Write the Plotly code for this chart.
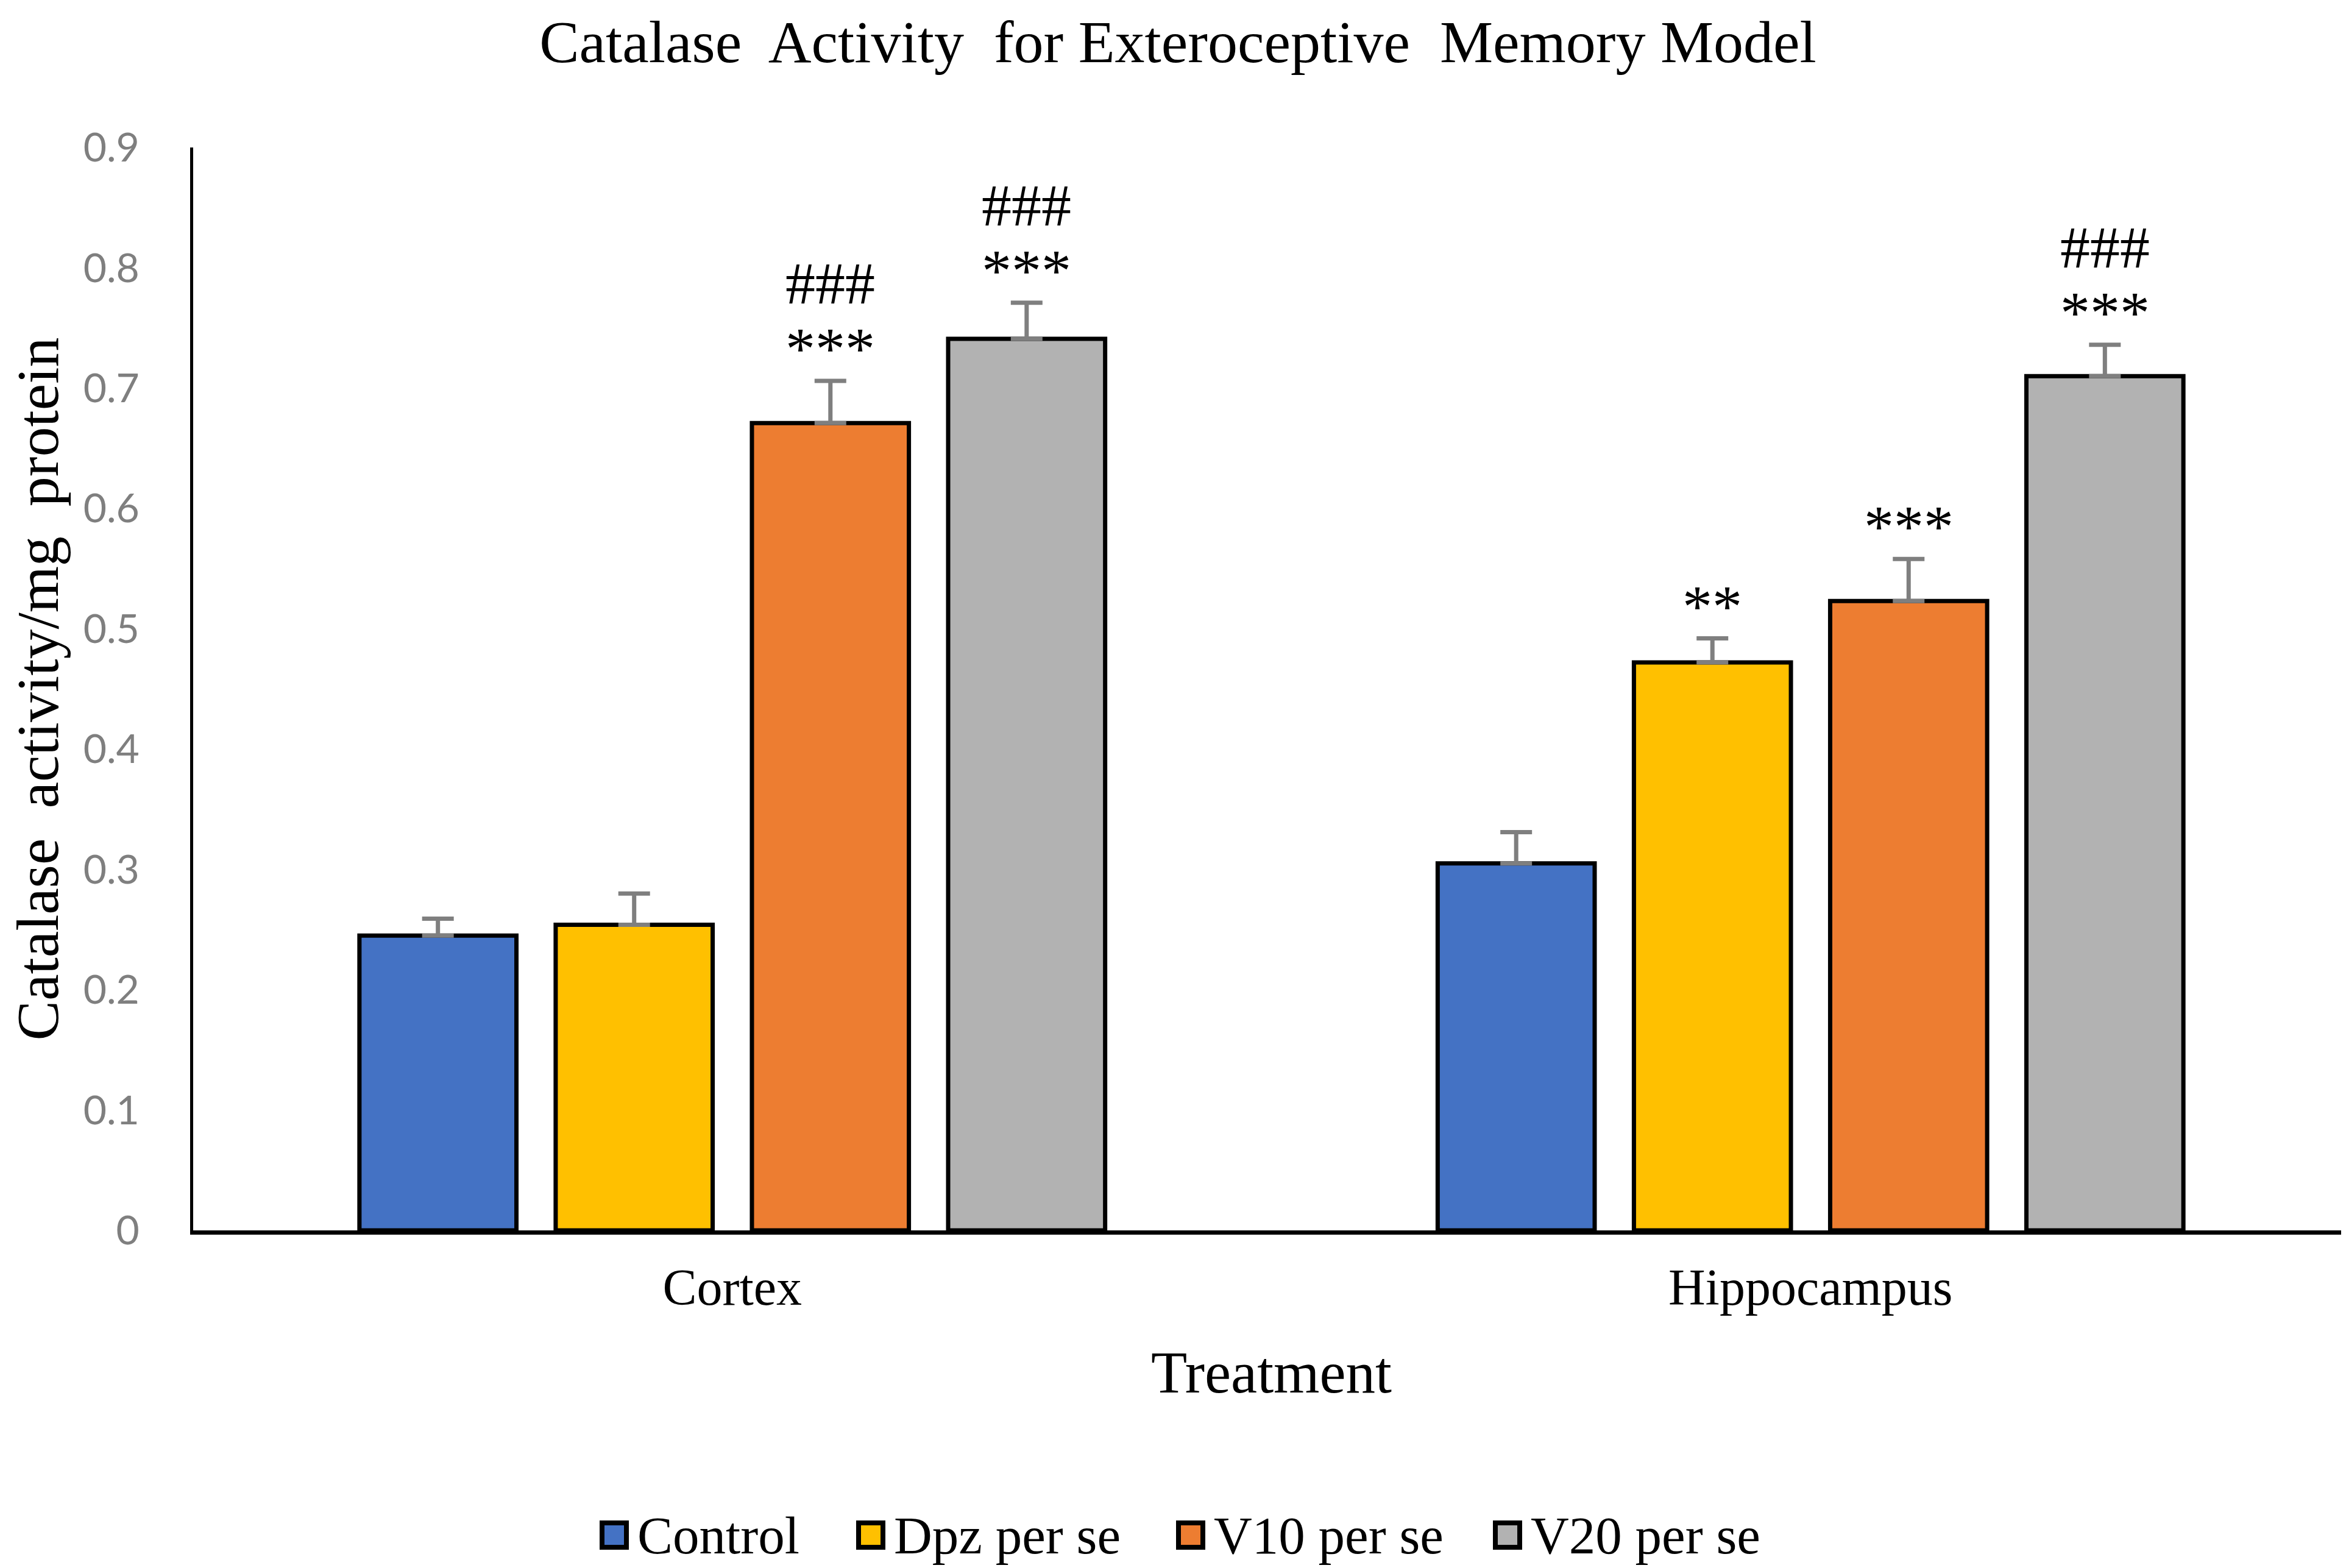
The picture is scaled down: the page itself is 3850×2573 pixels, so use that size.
import plotly.graph_objects as go

# ---------------------------------------------------------------------------
# DATA

regions = ["Cortex", "Hippocampus"]
groups = ["Control", "Dpz per se", "V10 per se", "V20 per se"]

control = [0.245, 0.305]
dpz = [0.254, 0.472]
v10 = [0.671, 0.523]
v20 = [0.741, 0.710]

control_err = [0.014, 0.026]
dpz_err = [0.026, 0.020]
v10_err = [0.035, 0.035]
v20_err = [0.030, 0.026]

# significance marks above each bar
control_stars = ["", ""]
dpz_stars = ["", "**"]
v10_stars = ["***", "***"]
v20_stars = ["***", "***"]

control_hash = ["", ""]
dpz_hash = ["", ""]
v10_hash = ["###", ""]
v20_hash = ["###", "###"]

y_ticks = [0, 0.1, 0.2, 0.3, 0.4, 0.5, 0.6, 0.7, 0.8, 0.9]
y_ticktext = ["0", "0.1", "0.2", "0.3", "0.4", "0.5", "0.6", "0.7", "0.8", "0.9"]

# ---------------------------------------------------------------------------
# STYLE / LAYOUT

W, H = 3850, 2573
L, R, T, B = 309, 2, 234, 562
colors = ["#4472C4", "#FFC000", "#ED7D31", "#B2B2B2"]
serif = "Liberation Serif"
BARGAP = 0.272
step = (1 - BARGAP) / len(groups)  # bar spacing in category units

# legend swatch left edges (pixels), drawn by hand so the squares are big
legend_left = [976, 1397, 1922, 2442]
legend_y = 2511
swatch = 48


def px_x(px):
    return (px - L) / (W - L - R)


def px_y(py):
    return (H - B - py) / (H - T - B)


values = [control, dpz, v10, v20]
errors = [control_err, dpz_err, v10_err, v20_err]
stars = [control_stars, dpz_stars, v10_stars, v20_stars]
hashes = [control_hash, dpz_hash, v10_hash, v20_hash]

series = []
for name, vals, errs, col in zip(groups, values, errors, colors):
    series.append(
        go.Bar(
            name=name,
            x=regions,
            y=vals,
            showlegend=False,
            marker=dict(color=col, line=dict(color="black", width=7)),
            error_y=dict(
                type="data",
                array=errs,
                arrayminus=[0] * len(errs),
                symmetric=False,
                color="#7F7F7F",
                thickness=7,
                width=26,
            ),
        )
    )

annotations = []
for i in range(len(groups)):
    for j, region in enumerate(regions):
        top = values[i][j] + errors[i][j]
        xpos = j + (i - (len(groups) - 1) / 2) * step
        if stars[i][j]:
            annotations.append(
                dict(x=xpos, y=top, xref="x", yref="y", text=stars[i][j],
                     showarrow=False, yanchor="middle", yshift=53,
                     font=dict(family=serif, size=98, color="black"))
            )
        if hashes[i][j]:
            annotations.append(
                dict(x=xpos, y=top, xref="x", yref="y", text=hashes[i][j],
                     showarrow=False, yanchor="middle", yshift=160,
                     font=dict(family=serif, size=98, color="black"))
            )

# legend
shapes = []
for name, col, left in zip(groups, colors, legend_left):
    shapes.append(
        dict(type="rect", xref="paper", yref="paper",
             x0=px_x(left + 4), x1=px_x(left + swatch - 4),
             y0=px_y(legend_y + swatch / 2 - 4), y1=px_y(legend_y - swatch / 2 + 4),
             fillcolor=col, line=dict(color="black", width=8))
    )
    annotations.append(
        dict(x=px_x(left + 60), y=px_y(legend_y), xref="paper", yref="paper",
             text=name, showarrow=False, xanchor="left", yanchor="middle",
             font=dict(family=serif, size=87, color="black"))
    )

layout = go.Layout(
    width=W,
    height=H,
    plot_bgcolor="white",
    paper_bgcolor="white",
    margin=dict(l=L, r=R, t=T, b=B),
    bargap=BARGAP,
    bargroupgap=0.2,
    showlegend=False,
    title=dict(
        text="Catalase  Activity  for Exteroceptive  Memory Model",
        x=0.5, xanchor="center", y=1 - 60 / H, yanchor="middle",
        font=dict(family=serif, size=98, color="black"),
    ),
    xaxis=dict(
        title=dict(text="Treatment", font=dict(family=serif, size=97, color="black"),
                   standoff=62),
        showgrid=False,
        zeroline=False,
        ticks="",
        ticklabelstandoff=14,
        showline=True,
        linecolor="black",
        linewidth=7,
        tickfont=dict(family=serif, size=84, color="black"),
    ),
    yaxis=dict(
        title=dict(text="Catalase  activity/mg  protein",
                   font=dict(family=serif, size=98, color="black"), standoff=55),
        range=[0, 0.9],
        tickvals=y_ticks,
        ticktext=y_ticktext,
        showgrid=False,
        zeroline=False,
        ticks="",
        ticklabelstandoff=70,
        showline=True,
        linecolor="black",
        linewidth=5,
        tickfont=dict(family="Lato", size=66, color="#7F7F7F"),
    ),
    shapes=shapes,
    annotations=annotations,
)

fig = go.Figure(data=series, layout=layout)
fig.write_html("out.html")
